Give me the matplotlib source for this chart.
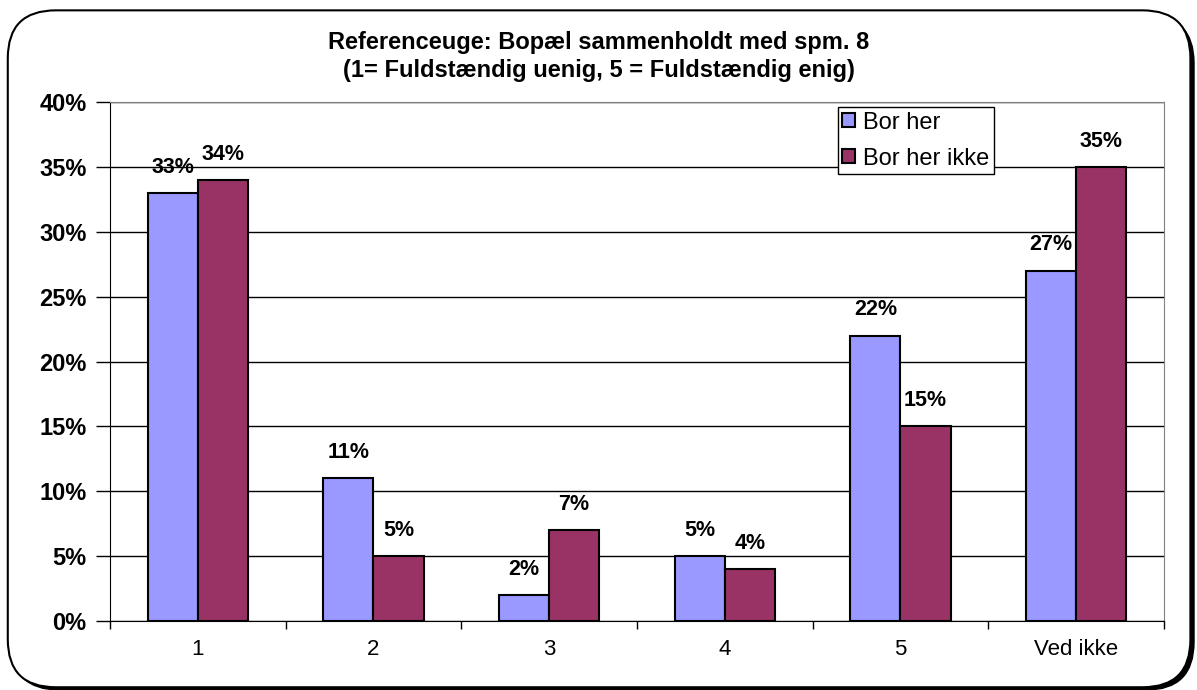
import matplotlib.pyplot as plt
import numpy as np
from matplotlib.patches import FancyBboxPatch

plt.rcParams['font.family'] = ['Liberation Sans', 'DejaVu Sans']

categories = ["1", "2", "3", "4", "5", "Ved ikke"]
bor_her = [33, 11, 2, 5, 22, 27]
bor_her_ikke = [34, 5, 7, 4, 15, 35]
series_names = ["Bor her", "Bor her ikke"]
title = "Referenceuge: Bopæl sammenholdt med spm. 8\n(1= Fuldstændig uenig, 5 = Fuldstændig enig)"

fig = plt.figure(figsize=(11.97, 6.9), dpi=100)

# rounded chart frame with a dark drop shadow
shadow = FancyBboxPatch((0.0095, 0.0), 0.988, 0.978, boxstyle="round,pad=0,rounding_size=0.04",
                        transform=fig.transFigure, facecolor="black", edgecolor="black",
                        mutation_aspect=1197 / 690, zorder=0)
frame = FancyBboxPatch((0.0065, 0.004), 0.988, 0.981, boxstyle="round,pad=0,rounding_size=0.04",
                       transform=fig.transFigure, facecolor="white", edgecolor="black", lw=1.5,
                       mutation_aspect=1197 / 690, zorder=1)
fig.patches.extend([shadow, frame])

ax = fig.add_axes([0.0919, 0.1, 0.8805, 0.752])
ax.set_zorder(2)
ax.patch.set_alpha(0)

x = np.arange(len(categories))
w = 0.285
b1 = ax.bar(x - w / 2, bor_her, w, color="#9999FF", edgecolor="black", lw=1.5, label=series_names[0], zorder=3)
b2 = ax.bar(x + w / 2, bor_her_ikke, w, color="#993366", edgecolor="black", lw=1.5, label=series_names[1], zorder=3)

for bars, vals in ((b1, bor_her), (b2, bor_her_ikke)):
    for rect, v in zip(bars, vals):
        ax.annotate(f"{v}%", (rect.get_x() + rect.get_width() / 2, v), xytext=(0, 11),
                    textcoords="offset points", ha="center", va="bottom",
                    fontsize=15.5, fontweight="bold", zorder=4)

ax.set_ylim(0, 40)
ax.set_xlim(-0.5, len(categories) - 0.5)
ax.set_yticks(np.arange(0, 41, 5))
ax.set_yticklabels([f"{t}%" for t in range(0, 41, 5)], fontsize=17, fontweight="bold")
ax.set_xticks(x)
ax.set_xticklabels(categories, fontsize=16)
ax.set_xticks(np.arange(-0.5, len(categories)), minor=True)
ax.tick_params(axis="x", which="major", length=0, pad=13)
ax.tick_params(axis="x", which="minor", length=6, width=1, color="black")
ax.tick_params(axis="y", length=10, width=1, pad=7)

ax.yaxis.grid(True, color="black", lw=1, zorder=1)
ax.set_axisbelow(True)
for side in ("top", "right"):
    ax.spines[side].set_color("#808080")
ax.spines["left"].set_color("black")
ax.spines["bottom"].set_color("black")

leg = ax.legend(loc="upper left", bbox_to_anchor=(0.686, 1.0), fontsize=17, frameon=True, fancybox=False,
                edgecolor="black", framealpha=1, handlelength=0.55, handleheight=0.55, handletextpad=0.3,
                borderpad=0.2, labelspacing=0.6, borderaxespad=0.2)
leg.get_frame().set_linewidth(1)

fig.text(0.5, 0.918, title, ha="center", va="center", fontsize=17, fontweight="bold", linespacing=1.3)

fig.savefig("out.png", dpi=100)
